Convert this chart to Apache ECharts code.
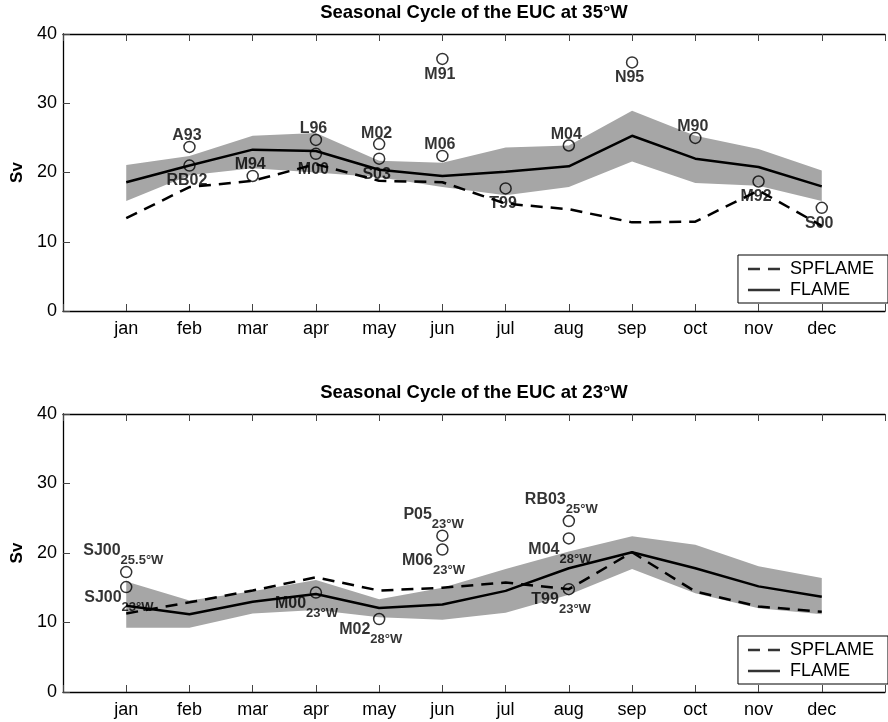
<!DOCTYPE html>
<html><head><meta charset="utf-8">
<script src="https://cdn.jsdelivr.net/npm/echarts@6/dist/echarts.min.js"></script>
<style>html,body{margin:0;padding:0;background:#fff}#c{width:888px;height:722px}</style>
</head><body><div id="c"></div>
<script>
// ---------- data ----------
const months = ['jan','feb','mar','apr','may','jun','jul','aug','sep','oct','nov','dec'];
const yTicks = [0, 10, 20, 30, 40];

// 35°W
const flame35   = [18.6, 21.0, 23.3, 23.1, 20.4, 19.5, 20.1, 20.9, 25.3, 22.0, 20.8, 18.0];
const spflame35 = [13.4, 17.9, 18.8, 21.2, 18.8, 18.6, 15.5, 14.7, 12.8, 12.9, 17.4, 12.3];
const upper35   = [21.1, 22.4, 25.3, 25.7, 21.7, 21.4, 23.6, 23.9, 28.9, 25.3, 23.4, 20.3];
const lower35   = [15.9, 19.6, 20.6, 20.0, 19.3, 17.9, 16.7, 17.9, 21.6, 18.5, 18.1, 15.9];
const obs35Names  = ['A93','RB02','M94','L96','M00','M02','S03','M91','M06','T99','M04','N95','M90','M92','S00'];
const obs35Months = ['feb','feb','mar','apr','apr','may','may','jun','jun','jul','aug','sep','oct','nov','dec'];
const obs35Values = [23.7, 21.0, 19.5, 24.7, 22.7, 24.1, 22.0, 36.4, 22.4, 17.7, 23.9, 35.9, 25.0, 18.7, 14.9];

// 23°W
const flame23   = [12.4, 11.2, 13.0, 14.1, 12.1, 12.6, 14.55, 17.8, 20.1, 17.8, 15.2, 13.7];
const spflame23 = [11.3, 12.9, 14.6, 16.5, 14.6, 15.0, 15.75, 14.8, 20.1, 14.45, 12.3, 11.55];
const upper23   = [15.9, 13.15, 14.5, 16.1, 13.35, 15.0, 17.7, 20.2, 22.4, 21.2, 18.1, 16.4];
const lower23   = [9.25, 9.25, 11.3, 11.8, 10.75, 10.4, 11.4, 14.0, 17.7, 14.2, 12.05, 11.2];
const obs23Names  = ['SJ00','SJ00','M00','M02','P05','M06','RB03','M04','T99'];
const obs23Subs   = ['25.5°W','23°W','23°W','28°W','23°W','23°W','25°W','28°W','23°W'];
const obs23Months = ['jan','jan','apr','may','jun','jun','aug','aug','aug'];
const obs23Values = [17.25, 15.1, 14.3, 10.5, 22.5, 20.5, 24.6, 22.1, 14.8];

const titles = ['Seasonal Cycle of the EUC at 35°W', 'Seasonal Cycle of the EUC at 23°W'];
const legendNames = ['SPFLAME', 'FLAME'];

// ---------- label placement (style, not data) ----------
const above35 = {A93:1, M94:1, L96:1, M02:1, M06:1, M04:1, M90:1};
const UP = -25, DN = 7;
const place23 = { // [dx of label left edge, dy of label top] relative to circle centre
  'SJ00 25.5°W': [-43, UP], 'SJ00 23°W': [-42, DN], 'M00 23°W': [-41, DN],
  'M02 28°W': [-40, DN], 'P05 23°W': [-39, UP], 'M06 23°W': [-40.5, DN],
  'RB03 25°W': [-44, UP], 'M04 28°W': [-40.5, DN], 'T99 23°W': [-37.5, DN]
};

const FONT = '"Liberation Sans", Arial, Helvetica, sans-serif';
const mx = m => months.indexOf(m) + 1;

function band(gi, upper, lower) {
  return {
    type: 'custom', xAxisIndex: gi * 2, yAxisIndex: gi, silent: true, z: 1,
    data: months.map((m, i) => [i + 1, upper[i], lower[i]]),
    encode: {x: 0, y: [1, 2]},
    renderItem(params, api) {
      if (params.dataIndex !== 0) return null;
      const pts = [];
      for (let i = 0; i < months.length; i++) pts.push(api.coord([i + 1, upper[i]]));
      for (let i = months.length - 1; i >= 0; i--) pts.push(api.coord([i + 1, lower[i]]));
      return {type: 'polygon', shape: {points: pts}, style: {fill: '#a6a6a6'}};
    }
  };
}
function line(gi, name, vals, dashed) {
  return {
    type: 'line', name, xAxisIndex: gi * 2, yAxisIndex: gi, z: dashed ? 3 : 4,
    data: months.map((m, i) => [i + 1, vals[i]]),
    symbol: 'none', silent: true,
    itemStyle: {color: '#000'},
    lineStyle: {color: '#000', width: 2.5, type: dashed ? [12, 8] : 'solid'}
  };
}
// empty series that only provide the legend swatches
function legendProxy(name) {
  return {type: 'scatter', name, xAxisIndex: 0, yAxisIndex: 0, data: [], itemStyle: {color: '#000'}, silent: true};
}
const circleStyle = {color: 'rgba(0,0,0,0)', borderColor: '#000', borderWidth: 1.5};

const obsTop = {
  type: 'scatter', xAxisIndex: 0, yAxisIndex: 0, z: 6, silent: true,
  symbol: 'circle', symbolSize: 11, itemStyle: circleStyle,
  data: obs35Names.map((n, i) => ({
    value: [mx(obs35Months[i]), obs35Values[i]],
    label: {
      show: true, position: 'inside', formatter: n, color: '#000',
      fontFamily: FONT, fontWeight: 'bold', fontSize: 16,
      align: 'center', verticalAlign: 'middle',
      offset: above35[n] ? [-2.5, -11] : [-2.5, 15.5]
    }
  }))
};
const obsBot = {
  type: 'scatter', xAxisIndex: 2, yAxisIndex: 1, z: 6, silent: true,
  symbol: 'circle', symbolSize: 11, itemStyle: circleStyle,
  data: obs23Names.map((n, i) => ({
    value: [mx(obs23Months[i]), obs23Values[i]],
    label: {
      show: true, position: 'inside', color: '#000',
      formatter: '{m|' + n + '}{s|' + obs23Subs[i] + '}',
      align: 'left', verticalAlign: 'top',
      offset: place23[n + ' ' + obs23Subs[i]],
      rich: {
        m: {fontFamily: FONT, fontWeight: 'bold', fontSize: 16, lineHeight: 16, padding: [0, 0, 8.5, 0], color: '#000'},
        s: {fontFamily: FONT, fontWeight: 'bold', fontSize: 13, lineHeight: 13, padding: [11.5, 0, 0, 0], color: '#000'}
      }
    }
  }))
};

function xBottom(gi) {
  return {
    type: 'value', gridIndex: gi, min: 0, max: 13, interval: 1, position: 'bottom',
    axisLine: {show: true, onZero: false, lineStyle: {color: '#000', width: 1.3}},
    axisTick: {show: true, inside: true, length: 7, lineStyle: {color: '#444', width: 1}},
    axisLabel: {show: true, margin: 9, color: '#000', fontFamily: FONT, fontSize: 18,
      formatter: v => (v >= 1 && v <= 12 ? months[v - 1] : '')},
    splitLine: {show: false}
  };
}
function xTop(gi) {
  return {
    type: 'value', gridIndex: gi, min: 0, max: 13, interval: 1, position: 'top',
    name: titles[gi], nameLocation: 'middle', nameGap: 12,
    nameTextStyle: {color: '#000', fontFamily: FONT, fontWeight: 'bold', fontSize: 18.5},
    axisLine: {show: true, onZero: false, lineStyle: {color: '#000', width: 1.3}},
    axisTick: {show: true, inside: true, length: 7, lineStyle: {color: '#444', width: 1}},
    axisLabel: {show: false}, splitLine: {show: false}
  };
}
function yAx(gi) {
  return {
    type: 'value', gridIndex: gi, min: yTicks[0], max: yTicks[yTicks.length - 1], interval: 10,
    name: 'Sv', nameLocation: 'middle', nameRotate: 90, nameGap: 35,
    nameTextStyle: {color: '#000', fontFamily: FONT, fontWeight: 'bold', fontSize: 17},
    axisLine: {show: true, onZero: false, lineStyle: {color: '#000', width: 1.3}},
    axisTick: {show: true, inside: true, length: 7, lineStyle: {color: '#444', width: 1}},
    axisLabel: {show: true, margin: 6, color: '#000', fontFamily: FONT, fontSize: 18},
    splitLine: {show: false}
  };
}
function legend(top) {
  return {
    orient: 'vertical', right: 0, top,
    data: [
      {name: legendNames[0], icon: 'path://M0,0h12v2.5h-12zM20,0h12v2.5h-12z'},
      {name: legendNames[1], icon: 'path://M0,0h32v2.5h-32z'}
    ],
    itemWidth: 32, itemHeight: 2.5, itemGap: 3, symbolKeepAspect: false,
    itemStyle: {color: '#000', borderWidth: 0},
    padding: [5, 14, 4, 10], borderColor: '#000', borderWidth: 1, backgroundColor: '#fff',
    textStyle: {color: '#000', fontFamily: FONT, fontSize: 18, padding: [0, 0, 0, 5]},
    selectedMode: false
  };
}

const chart = echarts.init(document.getElementById('c'), null, {renderer: 'canvas'});
chart.setOption({
  animation: false,
  backgroundColor: '#fff',
  textStyle: {fontFamily: FONT},
  grid: [
    {left: 63, top: 34, width: 833, height: 277},
    {left: 63, top: 414, width: 833, height: 278}
  ],
  xAxis: [xBottom(0), xTop(0), xBottom(1), xTop(1)],
  yAxis: [yAx(0), yAx(1)],
  legend: [legend(255), legend(636)],
  series: [
    legendProxy('SPFLAME'),
    legendProxy('FLAME'),
    band(0, upper35, lower35),
    line(0, 'SPFLAME', spflame35, true),
    line(0, 'FLAME', flame35, false),
    obsTop,
    band(1, upper23, lower23),
    line(1, 'SPFLAME', spflame23, true),
    line(1, 'FLAME', flame23, false),
    obsBot
  ]
});
</script></body></html>
